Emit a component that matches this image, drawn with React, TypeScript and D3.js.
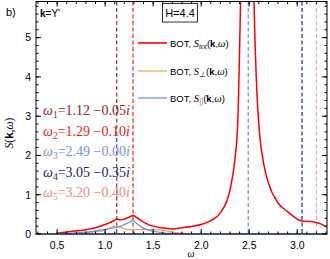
import React from "react";
import * as d3 from "d3";

const omegaGrid = [0.5, 0.6, 0.7, 0.8, 0.9, 1.0, 1.05, 1.1, 1.12, 1.16, 1.2, 1.25, 1.29, 1.33, 1.4, 1.45, 1.5, 1.6, 1.7, 1.8, 1.9, 2.0, 2.1, 2.2, 2.3, 2.35, 2.38, 2.41, 2.44, 2.48, 2.52, 2.55, 2.58, 2.61, 2.65, 2.7, 2.8, 2.9, 3.0, 3.05, 3.1, 3.15, 3.2, 3.25, 3.3];
const sTot = [0.02, 0.05, 0.08, 0.11, 0.16, 0.24, 0.29, 0.35, 0.38, 0.36, 0.38, 0.43, 0.47, 0.42, 0.3, 0.24, 0.2, 0.15, 0.13, 0.16, 0.19, 0.24, 0.34, 0.54, 1.12, 1.88, 2.8, 5.9, 10, 14, 10, 5.9, 3.6, 2.5, 1.8, 1.3, 0.79, 0.57, 0.38, 0.33, 0.32, 0.32, 0.29, 0.25, 0.18];
const sPerp = [0.0, 0.0, 0.01, 0.03, 0.06, 0.1, 0.15, 0.2, 0.21, 0.17, 0.14, 0.11, 0.1, 0.11, 0.12, 0.12, 0.11, 0.09, 0.05, 0.02, 0.01, 0, 0, 0, 0, 0, 0, 0, 0, 0, 0, 0, 0, 0, 0, 0, 0, 0, 0, 0, 0, 0, 0, 0, 0];
const sPar = [0.0, 0.01, 0.03, 0.05, 0.08, 0.12, 0.14, 0.16, 0.17, 0.2, 0.24, 0.3, 0.34, 0.26, 0.15, 0.1, 0.07, 0.03, 0.01, 0, 0, 0, 0, 0, 0, 0, 0, 0, 0, 0, 0, 0, 0, 0, 0, 0, 0, 0, 0, 0, 0, 0, 0, 0, 0];

const modeRe = [1.12, 1.29, 2.49, 3.05, 3.2];
const modeIm = ["0.05", "0.10", "0.00", "0.35", "0.40"];
const modeReLabel = ["1.12", "1.29", "2.49", "3.05", "3.20"];
const modeLineColors = ["#a04545", "#ff2a2a", "#7b90f2", "#38388f", "#f5a5a5"];
const modeTextColors = ["#9a1c1c", "#ee2020", "#7a8ef0", "#1c1c78", "#f28888"];

const xTicks = [0.5, 1.0, 1.5, 2.0, 2.5, 3.0];
const yTicks = [0, 1, 2, 3, 4, 5];

const W = 330, H = 259;
const L = 36, R = 327, T = 1.5, B = 234;

export default function App() {
  const x = d3.scaleLinear().domain([0.28, 3.31]).range([L, R]);
  const y = d3.scaleLinear().domain([0, 5.92]).range([B, T]);
  const line = (vals: number[]) =>
    d3.line<number>().x((_, i) => x(omegaGrid[i])).y((d) => y(d)).curve(d3.curveMonotoneX)(vals) || "";

  const xMinor = d3.range(3, 34).map((v) => v / 10).filter((v) => x(v) > L + 0.5 && x(v) < R - 0.5);
  const yMinor = d3.range(0, 30).map((v) => v / 5).filter((v) => y(v) > T + 0.5 && y(v) < B - 0.5);
  const sans = "Liberation Sans, Arial, sans-serif";
  const serif = "Liberation Serif, Times New Roman, serif";

  const legend = [
    { c: "#ff0000", sub: "tot", yy: 43, w: 1.6 },
    { c: "#f0a055", sub: "⊥", yy: 71, w: 1.2 },
    { c: "#6c88f2", sub: "||", yy: 98, w: 1.2 },
  ];

  return (
    <svg width={W} height={H} style={{ position: "absolute", left: 0, top: 0, background: "#fff" }}>
      <defs>
        <clipPath id="plotclip">
          <rect x={L} y={T} width={R - L} height={B - T} />
        </clipPath>
      </defs>
      <rect x={0} y={0} width={W} height={H} fill="#fff" />
      {/* dashed mode lines */}
      {modeRe.map((m, i) => (
        <line key={i} x1={x(m)} x2={x(m)} y1={T} y2={B} stroke={modeLineColors[i]} strokeWidth={1.3} strokeDasharray="4,2.5" />
      ))}
      <g clipPath="url(#plotclip)" fill="none">
        <path d={line(sPerp)} stroke="#f0a055" strokeWidth={1.2} />
        <path d={line(sPar)} stroke="#6c88f2" strokeWidth={1.2} />
        <path d={line(sTot)} stroke="#ff0000" strokeWidth={1.5} />
      </g>
      <line x1={L} x2={R} y1={B} y2={B} stroke="#6c88f2" strokeWidth={1.5} />
      {/* frame */}
      <rect x={L} y={T} width={R - L} height={B - T} fill="none" stroke="#000" strokeWidth={1} />
      {/* ticks */}
      <g stroke="#000" strokeWidth={1}>
        {xTicks.map((t) => (
          <g key={"x" + t}>
            <line x1={x(t)} x2={x(t)} y1={B} y2={B - 5} />
            <line x1={x(t)} x2={x(t)} y1={T} y2={T + 5} />
          </g>
        ))}
        {xMinor.map((t) => (
          <g key={"xm" + t}>
            <line x1={x(t)} x2={x(t)} y1={B} y2={B - 2.5} />
            <line x1={x(t)} x2={x(t)} y1={T} y2={T + 2.5} />
          </g>
        ))}
        {yTicks.map((t) => (
          <g key={"y" + t}>
            <line x1={L} x2={L + 5} y1={y(t)} y2={y(t)} />
            <line x1={R} x2={R - 5} y1={y(t)} y2={y(t)} />
          </g>
        ))}
        {yMinor.map((t) => (
          <g key={"ym" + t}>
            <line x1={L} x2={L + 2.5} y1={y(t)} y2={y(t)} />
            <line x1={R} x2={R - 2.5} y1={y(t)} y2={y(t)} />
          </g>
        ))}
      </g>
      {/* tick labels */}
      <g fontFamily={sans} fontSize={10.5} fill="#000">
        {xTicks.map((t) => (
          <text key={"xl" + t} x={x(t)} y={249} textAnchor="middle">{t.toFixed(1)}</text>
        ))}
        {yTicks.map((t) => (
          <text key={"yl" + t} x={31} y={y(t) + 3.8} textAnchor="end">{t}</text>
        ))}
      </g>
      {/* axis labels */}
      <text x={191} y={257} fontFamily={serif} fontStyle="italic" fontSize={10} textAnchor="middle">ω</text>
      <text transform="translate(13,133) rotate(-90)" fontFamily={serif} fontSize={11.5} textAnchor="middle">
        <tspan fontStyle="italic">S</tspan>(<tspan fontFamily={sans} fontWeight="bold">k</tspan>,<tspan fontStyle="italic">ω</tspan>)
      </text>
      <text x={6} y={16} fontFamily={sans} fontSize={11}>b)</text>
      <text x={40} y={17} fontFamily={sans} fontSize={10}>
        <tspan fontWeight="bold">k</tspan>=Y'
      </text>
      <rect x={162.5} y={3.5} width={35} height={18.5} fill="#fff" stroke="#000" strokeWidth={0.8} />
      <text x={180} y={17} fontFamily={sans} fontSize={11} textAnchor="middle">H=4.4</text>
      {/* legend */}
      {legend.map((l, i) => (
        <g key={"lg" + i}>
          <line x1={138} x2={167} y1={l.yy} y2={l.yy} stroke={l.c} strokeWidth={l.w} />
          <text x={170} y={l.yy + 3.5} fontFamily={sans} fontSize={9.5}>
            BOT, <tspan fontFamily={serif} fontStyle="italic" fontSize={10.5}>S</tspan>
            <tspan fontFamily={serif} fontStyle="italic" fontSize={7.5} dy={2}>{l.sub}</tspan>
            <tspan dy={-2}>(</tspan><tspan fontWeight="bold">k</tspan>,<tspan fontFamily={serif} fontStyle="italic" fontSize={10.5}>ω</tspan>)
          </text>
        </g>
      ))}
      {/* mode labels */}
      {modeRe.map((m, i) => (
        <text key={"ml" + i} x={43} y={115 + i * 20.5} fontFamily={serif} fontSize={14} fill={modeTextColors[i]}>
          <tspan fontStyle="italic">ω</tspan>
          <tspan fontSize={9.5} dy={3}>{i + 1}</tspan>
          <tspan dy={-3}>={modeReLabel[i]} −{modeIm[i]}</tspan>
          <tspan fontStyle="italic">i</tspan>
        </text>
      ))}
    </svg>
  );
}
